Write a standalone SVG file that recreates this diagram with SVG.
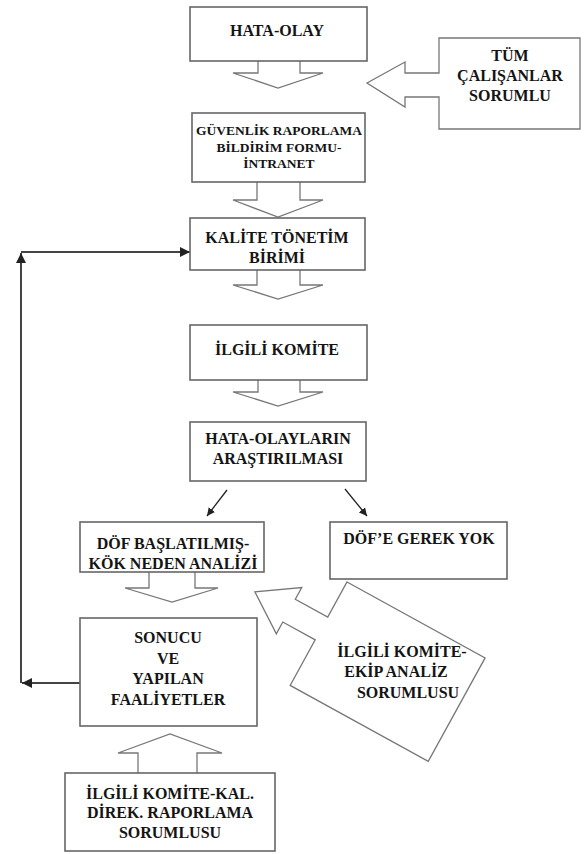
<svg xmlns="http://www.w3.org/2000/svg" width="585" height="854" viewBox="0 0 585 854">
<defs>
<marker id="ah" viewBox="0 0 10 10" refX="10" refY="5" markerWidth="8" markerHeight="8" markerUnits="userSpaceOnUse" orient="auto">
<path d="M0,0 L10,5 L0,10 z" fill="#222"/>
</marker>
<marker id="ah2" viewBox="0 0 10 10" refX="10" refY="5" markerWidth="10" markerHeight="10" markerUnits="userSpaceOnUse" orient="auto">
<path d="M0,0 L10,5 L0,10 z" fill="#222"/>
</marker>
<style>
.box{fill:#fff;stroke:#666;stroke-width:1.6}
.harrow{fill:#fff;stroke:#777;stroke-width:1.3;stroke-linejoin:miter}
.t{font-family:"Liberation Serif","Times New Roman",serif;font-weight:bold;font-size:16px;fill:#141414;text-anchor:middle}
.ts{font-size:13.5px}
.con{fill:none;stroke:#444;stroke-width:2}
.dia{fill:none;stroke:#222;stroke-width:1.3}
</style>
</defs>
<rect width="585" height="854" fill="#fff"/>

<g id="connectors">
<path class="con" d="M80,683 L22,683" marker-end="url(#ah2)"/>
<path class="con" d="M21,683 L21,253" marker-end="url(#ah2)"/>
<path class="con" d="M21,252 L190,252" marker-end="url(#ah2)"/>
<path class="dia" d="M227,490 L207,516" marker-end="url(#ah)"/>
<path class="dia" d="M345,489 L367,516" marker-end="url(#ah)"/>
<polyline class="harrow" points="258,61 258,73 233,73 278,88 323,73 300,73 300,61"/>
<polyline class="harrow" points="257,182 257,200 233,200 278,217 323,200 300,200 300,182"/>
<polyline class="harrow" points="257,270 257,285 233,285 278,299 323,285 300,285 300,270"/>
<polyline class="harrow" points="258,380 258,392 233,392 278,406 323,392 300,392 300,380"/>
<polyline class="harrow" points="149,572 149,588 125,588 172,602 218,588 195,588 195,572"/>
<polyline class="harrow" points="138,773 138,753 118,753 170,734 222,753 197,753 197,773"/>
</g>

<g id="hata-olay">
<rect class="box" x="190" y="7" width="177" height="54"/>
<text class="t" x="277" y="36">HATA-OLAY</text>
</g>

<g id="tum-calisanlar">
<polygon class="harrow" points="439,38 580,38 580,129 439,129 439,97 405,97 405,107 367,83 405,62 405,73 439,73"/>
<text class="t" x="510" y="61">TÜM</text>
<text class="t" x="510" y="81">ÇALIŞANLAR</text>
<text class="t" x="510" y="101">SORUMLU</text>
</g>

<g id="guvenlik">
<rect class="box" x="192" y="113" width="173" height="69"/>
<text class="t ts" x="279" y="135">GÜVENLİK RAPORLAMA</text>
<text class="t ts" x="279" y="152">BİLDİRİM FORMU-</text>
<text class="t ts" x="279" y="168">İNTRANET</text>
</g>

<g id="kalite">
<rect class="box" x="190" y="218" width="175" height="52"/>
<text class="t" x="277" y="243">KALİTE TÖNETİM</text>
<text class="t" x="277" y="263">BİRİMİ</text>
</g>

<g id="ilgili-komite">
<rect class="box" x="190" y="325" width="177" height="55"/>
<text class="t" x="277" y="355">İLGİLİ KOMİTE</text>
</g>

<g id="arastirma">
<rect class="box" x="190" y="422" width="176" height="59"/>
<text class="t" x="278" y="444">HATA-OLAYLARIN</text>
<text class="t" x="278" y="464">ARAŞTIRILMASI</text>
</g>

<g id="dof-baslatilmis">
<rect class="box" x="80" y="522" width="184" height="50"/>
<text class="t" x="173" y="549">DÖF BAŞLATILMIŞ-</text>
<text class="t" x="173" y="569">KÖK NEDEN ANALİZİ</text>
</g>

<g id="dof-gerek-yok">
<rect class="box" x="330" y="522" width="177" height="57"/>
<text class="t" x="419" y="544">DÖF’E GEREK YOK</text>
</g>

<g id="ekip-analiz">
<polygon class="harrow" transform="translate(347,582) rotate(28.8)" points="0,0 157.6,0 157.6,118 0,118 0,66 -37,66 -37,79.4 -76,53 -37,26.6 -37,40 0,40"/>
<text class="t" x="402" y="657">İLGİLİ KOMİTE-</text>
<text class="t" x="396" y="677">EKİP ANALİZ</text>
<text class="t" x="408" y="698">SORUMLUSU</text>
</g>

<g id="sonucu">
<rect class="box" x="80" y="618" width="177" height="108"/>
<text class="t" x="168" y="643">SONUCU</text>
<text class="t" x="168" y="664">VE</text>
<text class="t" x="168" y="684">YAPILAN</text>
<text class="t" x="168" y="705">FAALİYETLER</text>
</g>

<g id="raporlama">
<rect class="box" x="65" y="773" width="210" height="78"/>
<text class="t" x="170" y="799">İLGİLİ KOMİTE-KAL.</text>
<text class="t" x="170" y="818">DİREK. RAPORLAMA</text>
<text class="t" x="170" y="838">SORUMLUSU</text>
</g>
</svg>
